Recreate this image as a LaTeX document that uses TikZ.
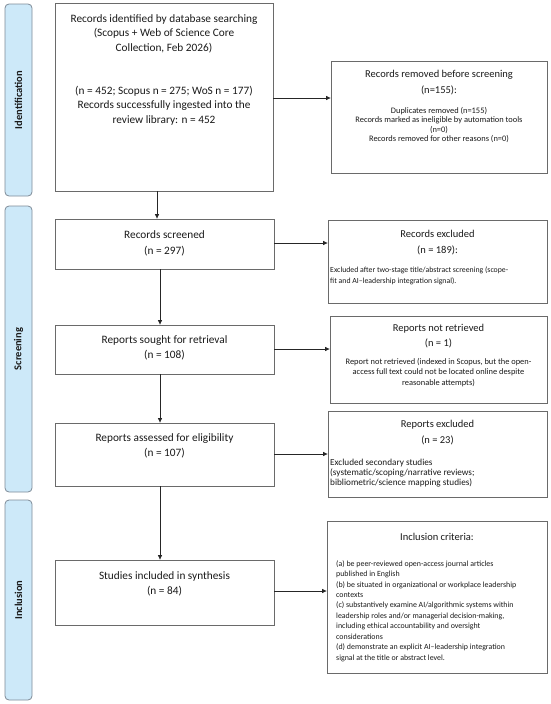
\documentclass[tikz,border=0pt]{standalone}
\usepackage{fontspec}
\setmainfont{Carlito}
\usetikzlibrary{arrows.meta}
\definecolor{boxline}{HTML}{6A6A6A}
\definecolor{lanefill}{HTML}{CDE9F9}
\definecolor{laneline}{HTML}{7E8B97}
\definecolor{txt}{HTML}{1A1A1A}
\begin{document}
\begin{tikzpicture}[x=1pt,y=-1pt,
  box/.style={draw=boxline, line width=0.8pt, inner sep=0pt, fill=white},
  lane/.style={draw=laneline, fill=lanefill, line width=0.8pt, rounded corners=4pt, inner sep=0pt},
  lanetext/.style={rotate=90, font=\fontsize{10.5}{12}\selectfont\bfseries, text=txt},
  main/.style={align=center, font=\fontsize{11.3}{14.5}\selectfont, text=txt, inner sep=0pt},
  rtitle/.style={align=center, font=\fontsize{10.5}{16}\selectfont, text=txt, inner sep=0pt},
  small/.style={font=\fontsize{7.5}{10.5}\selectfont, text=txt, inner sep=0pt},
  arr/.style={-{Triangle[length=4.5pt,width=4pt]}, line width=0.7pt, draw=black!85}]
\useasboundingbox (0,0) rectangle (550,704);
% lanes
\node[lane, minimum width=27pt, minimum height=192pt] (l1) at (18.5,100) {};
\node[lanetext] (l1t) at (l1.center) {Identification};
\node[lane, minimum width=27pt, minimum height=286pt] (l2) at (18.5,349) {};
\node[lanetext] (l2t) at (l2.center) {Screening};
\node[lane, minimum width=27pt, minimum height=200pt] (l3) at (18.5,600) {};
\node[lanetext] (l3t) at (l3.center) {Inclusion};
% left boxes
\node[box, minimum width=218pt, minimum height=188pt] (b1) at (164,97) {};
\node[main] (b1a) at (164,33.5) {Records identified by database searching\\(Scopus + Web of Science Core\\Collection, Feb 2026)};
\node[main] (b1b) at (164,105.5) {(n = 452; Scopus n = 275; WoS n = 177)\\Records successfully ingested into the\\review library: n = 452};
\node[box, minimum width=219pt, minimum height=50pt] (s1) at (164.5,244) {};
\node[main, font=\fontsize{11.3}{16}\selectfont] (s1t) at (164.5,243) {Records screened\\(n = 297)};
\node[box, minimum width=219pt, minimum height=49pt] (s2) at (164.5,349.5) {};
\node[main, font=\fontsize{11.3}{15}\selectfont] (s2t) at (164.5,347.5) {Reports sought for retrieval\\(n = 108)};
\node[box, minimum width=219pt, minimum height=63pt] (s3) at (164.5,454.5) {};
\node[main, font=\fontsize{11.3}{15}\selectfont] (s3t) at (164.5,445.5) {Reports assessed for eligibility\\(n = 107)};
\node[box, minimum width=219pt, minimum height=65pt] (s4) at (164.5,592.5) {};
\node[main] (s4t) at (164.5,584) {Studies included in synthesis\\(n = 84)};
% right boxes
\node[box, minimum width=216pt, minimum height=112pt] (r1) at (439,117) {};
\node[rtitle] (r1t) at (439,83) {Records removed before screening\\(n=155):};
\node[small, align=center, font=\fontsize{8.4}{9.4}\selectfont] (r1s) at (439,125) {Duplicates removed (n=155)\\Records marked as ineligible by automation tools\\(n=0)\\Records removed for other reasons (n=0)};
\node[box, minimum width=219pt, minimum height=83pt] (r2) at (437.5,261.5) {};
\node[rtitle] (r2t) at (437.5,243) {Records excluded\\(n = 189):};
\node[small, align=left, anchor=west, font=\fontsize{7.8}{11}\selectfont] (r2s) at (330,275.5) {Excluded after two-stage title/abstract screening (scope-\\fit and AI--leadership integration signal).};
\node[box, minimum width=217pt, minimum height=87pt] (r3) at (438.5,359.5) {};
\node[rtitle, font=\fontsize{10.5}{15}\selectfont] (r3t) at (438.5,336.5) {Reports not retrieved\\(n = 1)};
\node[small, align=center, font=\fontsize{8.4}{10.5}\selectfont] (r3s) at (438.5,372.5) {Report not retrieved (indexed in Scopus, but the open-\\access full text could not be located online despite\\reasonable attempts)};
\node[box, minimum width=219pt, minimum height=86pt] (r4) at (437.5,454) {};
\node[rtitle] (r4t) at (437.5,433) {Reports excluded\\(n = 23)};
\node[small, align=left, anchor=west, font=\fontsize{9.2}{10.2}\selectfont] (r4s) at (330,473) {Excluded secondary studies\\(systematic/scoping/narrative reviews;\\bibliometric/science mapping studies)};
\node[box, minimum width=220pt, minimum height=152pt] (r5) at (437,597) {};
\node[rtitle] (r5t) at (437,537) {Inclusion criteria:};
\node[small, align=left, anchor=west, font=\fontsize{7.9}{10.45}\selectfont] (r5s) at (336,611) {(a) be peer-reviewed open-access journal articles\\published in English\\(b) be situated in organizational or workplace leadership\\contexts\\(c) substantively examine AI/algorithmic systems within\\leadership roles and/or managerial decision-making,\\including ethical accountability and oversight\\considerations\\(d) demonstrate an explicit AI--leadership integration\\signal at the title or abstract level.};
% vertical arrows
\draw[arr] (b1.south -| 157,0) -- (s1.north -| 157,0);
\draw[arr] (s1.south -| 160,0) -- (s2.north -| 160,0);
\draw[arr] (s2.south -| 160,0) -- (s3.north -| 160,0);
\draw[arr] (s3.south -| 160,0) -- (s4.north -| 160,0);
% horizontal arrows
\draw[arr] (b1.east |- 0,98) -- (r1.west |- 0,98);
\draw[arr] (s1.east |- 0,243) -- (r2.west |- 0,243);
\draw[arr] (s2.east |- 0,349) -- (r3.west |- 0,349);
\draw[arr] (s3.east |- 0,454) -- (r4.west |- 0,454);
\draw[arr] (s4.east |- 0,591) -- (r5.west |- 0,591);
\end{tikzpicture}
\end{document}
